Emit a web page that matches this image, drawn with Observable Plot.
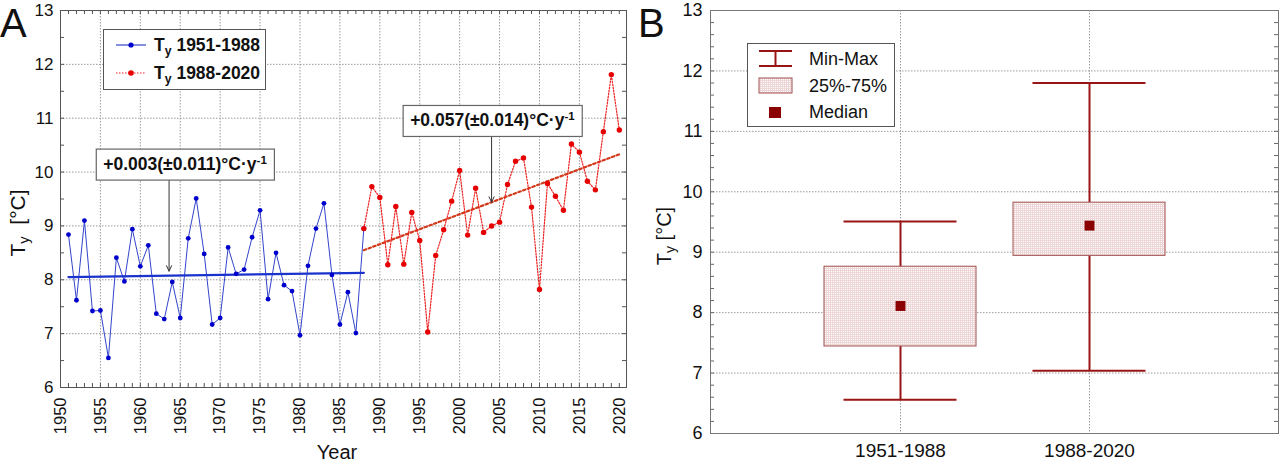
<!DOCTYPE html>
<html>
<head>
<meta charset="utf-8">
<script src="https://cdn.jsdelivr.net/npm/d3@7"></script>
<script src="https://cdn.jsdelivr.net/npm/@observablehq/plot@0.6"></script>
<style>
  body { margin: 0; background: #fff; font-family: "Liberation Sans", Arial, sans-serif; color: #111; }
  #wrap { position: relative; width: 1280px; height: 463px; overflow: hidden; background: #fff; }
  .panel { position: absolute; top: 0; }
  .letter { position: absolute; font-size: 40px; line-height: 1; }
  .centered { position: absolute; white-space: nowrap; transform: translate(-50%, -50%); }
  .rot { transform: translate(-50%, -50%) rotate(-90deg); }
  .sub { font-size: 0.7em; position: relative; top: 0.3em; }
  .legend { position: absolute; border: 1px solid #555; background: #fff; box-sizing: border-box; }
  .legend .row { position: absolute; white-space: nowrap; transform: translateY(-50%); }
  .legend svg { position: absolute; left: 0; top: 0; overflow: visible; }
</style>
</head>
<body>
<svg width="0" height="0" style="position:absolute">
  <defs>
    <pattern id="boxfill" width="2" height="2" patternUnits="userSpaceOnUse">
      <rect width="2" height="2" fill="#ffffff"></rect>
      <rect width="2" height="1" fill="#eed6d6"></rect>
      <rect width="1" height="2" fill="#eed6d6"></rect>
    </pattern>
  </defs>
</svg>
<div id="wrap">
  <div id="panelA" class="panel" style="left:0"></div>
  <div id="panelB" class="panel" style="left:640px"></div>

  <div class="letter" style="left:0px;top:3px">A</div>
  <div class="letter" style="left:638px;top:3px">B</div>

  <div class="centered rot" style="left:18px;top:223px;font-size:21px">T<span class="sub">y</span>&nbsp;&nbsp;[°C]</div>
  <div class="centered" style="left:337px;top:452px;font-size:20px">Year</div>
  <div class="centered rot" style="left:664px;top:236px;font-size:20px">T<span class="sub">y</span> [°C]</div>

  <div class="legend" style="left:103px;top:29px;width:163px;height:61px">
    <svg width="163" height="61">
      <line x1="12" y1="15" x2="42" y2="15" stroke="#3344cc" stroke-width="1.2"></line>
      <circle cx="27" cy="15" r="2.6" fill="#0000cc"></circle>
      <line x1="12" y1="43" x2="42" y2="43" stroke="#ee2222" stroke-width="1.2" stroke-dasharray="1.5,1.5"></line>
      <circle cx="27" cy="43" r="2.8" fill="#e60000"></circle>
    </svg>
    <div class="row" style="left:50px;top:15px;font-size:17.5px;font-weight:bold">T<span class="sub">y</span> 1951-1988</div>
    <div class="row" style="left:50px;top:43px;font-size:17.5px;font-weight:bold">T<span class="sub">y</span> 1988-2020</div>
  </div>

  <div class="legend" style="left:747px;top:43px;width:148px;height:84px">
    <svg width="148" height="84">
      <line x1="11" y1="7" x2="44" y2="7" stroke="#991515" stroke-width="2"></line>
      <line x1="11" y1="22" x2="44" y2="22" stroke="#991515" stroke-width="2"></line>
      <line x1="27.5" y1="7" x2="27.5" y2="22" stroke="#991515" stroke-width="2"></line>
      <rect x="11" y="34" width="33" height="15" fill="url(#boxfill)" stroke="#a05050" stroke-width="1"></rect>
      <rect x="21" y="63" width="12" height="11" fill="#8b0000"></rect>
    </svg>
    <div class="row" style="left:61px;top:15px;font-size:18px">Min-Max</div>
    <div class="row" style="left:61px;top:42px;font-size:18px">25%-75%</div>
    <div class="row" style="left:61px;top:68px;font-size:18px">Median</div>
  </div>
</div>

<script>
// ---------- Panel A data ----------
const years1 = d3.range(1951, 1989);
const temps1 = [8.84, 7.62, 9.10, 7.42, 7.43, 6.55, 8.41, 7.97, 8.94, 8.25,
                8.64, 7.37, 7.27, 7.96, 7.29, 8.77, 9.51, 8.48, 7.17, 7.29,
                8.60, 8.11, 8.19, 8.79, 9.29, 7.64, 8.50, 7.90, 7.79, 6.97,
                8.26, 8.95, 9.42, 8.09, 7.17, 7.77, 7.01, 8.95];
const years2 = d3.range(1988, 2021);
const temps2 = [8.95, 9.73, 9.53, 8.28, 9.36, 8.29, 9.25, 8.73, 7.03, 8.45,
                8.93, 9.46, 10.03, 8.83, 9.70, 8.88, 9.00, 9.07, 9.77, 10.20,
                10.26, 9.35, 7.82, 9.79, 9.55, 9.29, 10.52, 10.37, 9.83, 9.67,
                10.75, 11.81, 10.78];
const trend1Years = [1951, 1988];
const trend1Values = [8.05, 8.13];
const trend2Years = [1988, 2020];
const trend2Values = [8.55, 10.33];

const annotLabels = ["+0.003(±0.011)°C·y^-1", "+0.057(±0.014)°C·y^-1"];
const annotTextX = [1965.6, 2004.1];
const annotTextY = [10.15, 10.96];
const arrowX = [1963.6, 2004.0];
const arrowFromY = [9.86, 10.66];
const arrowToY = [8.16, 9.44];

const xGridA = [1955, 1960, 1965, 1970, 1975, 1980, 1985, 1990, 1995, 2000, 2005, 2010, 2015];
const xTickLabelsA = [1950, 1955, 1960, 1965, 1970, 1975, 1980, 1985, 1990, 1995, 2000, 2005, 2010, 2015, 2020];
const yTicks = [6, 7, 8, 9, 10, 11, 12, 13];
const yGrid = [7, 8, 9, 10, 11, 12];

// ---------- Panel B data ----------
const groups = ["1951-1988", "1988-2020"];
const mins = [6.56, 7.04];
const q25 = [7.44, 8.94];
const medians = [8.11, 9.44];
const q75 = [8.76, 9.82];
const maxs = [9.51, 11.80];

// ---------- tables ----------
const rows1 = years1.map((y, i) => ({year: y, t: temps1[i]}));
const rows2 = years2.map((y, i) => ({year: y, t: temps2[i]}));
const trend1 = trend1Years.map((y, i) => ({year: y, t: trend1Values[i]}));
const trend2 = trend2Years.map((y, i) => ({year: y, t: trend2Values[i]}));
const annots = annotLabels.map((l, i) => ({
  label: l, tx: annotTextX[i], ty: annotTextY[i], ax: arrowX[i], ay1: arrowFromY[i], ay2: arrowToY[i]
}));
const boxRows = groups.map((g, i) => ({g, min: mins[i], q1: q25[i], med: medians[i], q3: q75[i], max: maxs[i]}));

const font = "'Liberation Sans', Arial, sans-serif";
const gridStyle = {stroke: "#9a9a9a", strokeOpacity: 1, strokeWidth: 1, strokeDasharray: "1.5,1.5"};
const intFmt = d => String(d);

// ---------- Panel A ----------
const HA = 463, MTA = 10, MBA = 76, MLA = 60, MRA = 14;
const innerHA = HA - MTA - MBA, innerWA = 640 - MLA - MRA;
const allYears = d3.range(1950, 2021);
const halfUnits = d3.range(6, 13.01, 0.5);

const chartA = Plot.plot({
  width: 640, height: HA,
  marginLeft: MLA, marginRight: MRA, marginTop: MTA, marginBottom: MBA,
  style: {fontFamily: font, background: "transparent", color: "#111", overflow: "visible"},
  x: {domain: [1950, 2020.9]},
  y: {domain: [6, 13]},
  marks: [
    Plot.gridX(xGridA, gridStyle),
    Plot.gridY(yGrid, gridStyle),
    Plot.tickX(allYears, {x: d => d, insetBottom: innerHA - 4, stroke: "#555"}),
    Plot.tickX(allYears, {x: d => d, insetTop: innerHA - 4, stroke: "#555"}),
    Plot.tickY(halfUnits, {y: d => d, insetRight: innerWA - 4, stroke: "#555"}),
    Plot.tickY(halfUnits, {y: d => d, insetLeft: innerWA - 4, stroke: "#555"}),
    Plot.axisX(xTickLabelsA, {anchor: "bottom", tickSize: 0, tickPadding: 10, tickRotate: -90, label: null, fontSize: 16.5, tickFormat: intFmt}),
    Plot.axisY(yTicks, {anchor: "left", tickSize: 0, tickPadding: 7, label: null, fontSize: 17, tickFormat: intFmt}),
    Plot.line(trend2, {x: "year", y: "t", stroke: "#d2391a", strokeWidth: 2.2, strokeDasharray: "2.5,2.5"}),
    Plot.line(rows1, {x: "year", y: "t", stroke: "#3344cc", strokeWidth: 1}),
    Plot.line(trend1, {x: "year", y: "t", stroke: "#1a33cc", strokeWidth: 2.3}),
    Plot.dot(rows1, {x: "year", y: "t", r: 2.4, fill: "#0000cc", stroke: "none"}),
    Plot.line(rows2, {x: "year", y: "t", stroke: "#ee2222", strokeWidth: 1.2, strokeDasharray: "1.5,1.5"}),
    Plot.dot(rows2, {x: "year", y: "t", r: 2.7, fill: "#e60000", stroke: "none"}),
    Plot.arrow(annots, {x1: "ax", y1: "ay1", x2: "ax", y2: "ay2", stroke: "#333", strokeWidth: 1, headLength: 9, headAngle: 50}),
    Plot.text(annots, {x: "tx", y: "ty", text: "label", fontSize: 17.5, fontWeight: "bold", fill: "#111"}),
    Plot.frame({stroke: "#555"})
  ]
});
document.getElementById("panelA").appendChild(chartA);

// annotation boxes + superscripts
const NS = "http://www.w3.org/2000/svg";
chartA.querySelectorAll('[aria-label="text"] text').forEach(t => {
  const [main, sup] = t.textContent.split("^");
  t.textContent = main;
  if (sup) {
    const ts = document.createElementNS(NS, "tspan");
    ts.setAttribute("dy", "-0.5em");
    ts.setAttribute("font-size", "11.5");
    ts.textContent = sup;
    t.appendChild(ts);
  }
  const bb = t.getBBox();
  const r = document.createElementNS(NS, "rect");
  const padX = 7, h = 31;
  const cy = bb.y + bb.height / 2 + 1;
  r.setAttribute("x", bb.x - padX);
  r.setAttribute("y", cy - h / 2);
  r.setAttribute("width", bb.width + 2 * padX);
  r.setAttribute("height", h);
  r.setAttribute("fill", "#fff");
  r.setAttribute("stroke", "#666");
  r.setAttribute("stroke-width", "1.2");
  if (t.getAttribute("transform")) r.setAttribute("transform", t.getAttribute("transform"));
  t.parentNode.insertBefore(r, t);
});

// ---------- Panel B ----------
const HB = 463, MTB = 10, MBB = 30, MLB = 70, MRB = 2;
const innerHB = HB - MTB - MBB, innerWB = 640 - MLB - MRB;
const minorB = d3.range(6, 13.001, 0.2);
const darkRed = "#991515";

const chartB = Plot.plot({
  width: 640, height: HB,
  marginLeft: MLB, marginRight: MRB, marginTop: MTB, marginBottom: MBB,
  style: {fontFamily: font, background: "transparent", color: "#111", overflow: "visible"},
  x: {type: "band", domain: groups, paddingInner: 0.197, paddingOuter: 0.5985, align: 0.5},
  y: {domain: [6, 13]},
  marks: [
    Plot.gridY(yGrid, gridStyle),
    Plot.ruleX(groups, {x: d => d, ...gridStyle}),
    Plot.tickY(minorB, {y: d => d, insetRight: innerWB - 4, stroke: "#666"}),
    Plot.tickY(minorB, {y: d => d, insetLeft: innerWB - 4, stroke: "#666"}),
    Plot.axisY(yTicks, {anchor: "left", tickSize: 0, tickPadding: 8, label: null, fontSize: 18, tickFormat: intFmt}),
    Plot.axisX(groups, {anchor: "bottom", tickSize: 0, tickPadding: 10, label: null, fontSize: 19}),
    Plot.ruleX(boxRows, {x: "g", y1: "min", y2: "q1", stroke: darkRed, strokeWidth: 2}),
    Plot.ruleX(boxRows, {x: "g", y1: "q3", y2: "max", stroke: darkRed, strokeWidth: 2}),
    Plot.tickY(boxRows, {x: "g", y: "min", insetLeft: 19.5, insetRight: 19.5, stroke: darkRed, strokeWidth: 2}),
    Plot.tickY(boxRows, {x: "g", y: "max", insetLeft: 19.5, insetRight: 19.5, stroke: darkRed, strokeWidth: 2}),
    Plot.barY(boxRows, {x: "g", y1: "q1", y2: "q3", fill: "url(#boxfill)", stroke: "#a05050", strokeWidth: 1}),
    Plot.dot(boxRows, {x: "g", y: "med", symbol: "square", r: 5.6, fill: "#8b0000", stroke: "none"}),
    Plot.frame({stroke: "#777"})
  ]
});
document.getElementById("panelB").appendChild(chartB);
</script>
</body>
</html>
